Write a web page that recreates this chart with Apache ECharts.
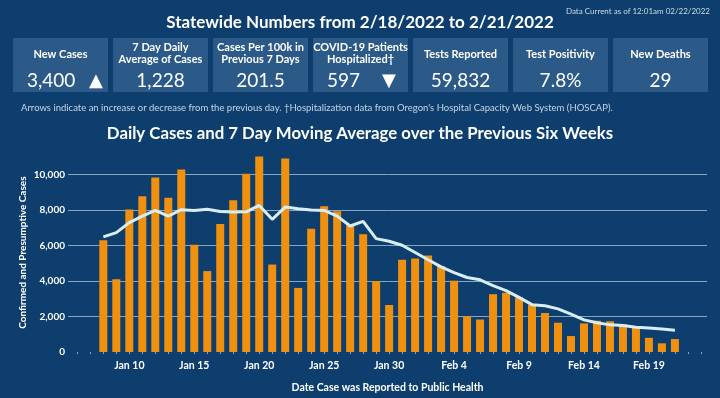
<!DOCTYPE html>
<html>
<head>
<meta charset="utf-8">
<script src="https://cdn.jsdelivr.net/npm/echarts@6/dist/echarts.min.js"></script>
<style>
  html, body { margin: 0; padding: 0; background: #0d3e6e; }
  #chart { width: 720px; height: 398px; }
</style>
</head>
<body>
<div id="chart"></div>
<script>
// daily data, Jan 8 .. Feb 21 2022
const days = [
  'Jan 8', 'Jan 9', 'Jan 10', 'Jan 11', 'Jan 12', 'Jan 13', 'Jan 14', 'Jan 15', 'Jan 16', 'Jan 17',
  'Jan 18', 'Jan 19', 'Jan 20', 'Jan 21', 'Jan 22', 'Jan 23', 'Jan 24', 'Jan 25', 'Jan 26', 'Jan 27',
  'Jan 28', 'Jan 29', 'Jan 30', 'Jan 31', 'Feb 1', 'Feb 2', 'Feb 3', 'Feb 4', 'Feb 5', 'Feb 6',
  'Feb 7', 'Feb 8', 'Feb 9', 'Feb 10', 'Feb 11', 'Feb 12', 'Feb 13', 'Feb 14', 'Feb 15', 'Feb 16',
  'Feb 17', 'Feb 18', 'Feb 19', 'Feb 20', 'Feb 21'
]
const dailyCases = [
  6300, 4100, 8030, 8780, 9830, 8690, 10280, 6050, 4560, 7210,
  8560, 10050, 11020, 4930, 10910, 3610, 6950, 8220, 7940, 7140,
  6640, 4000, 2650, 5200, 5270, 5440, 4840, 4020, 2020, 1830,
  3260, 3340, 3070, 2670, 2200, 1650, 900, 1610, 1760, 1730,
  1550, 1380, 800, 490, 730
]
const movingAvg = [
  6490, 6730, 7290, 7660, 7980, 7660, 8020, 7980, 8050, 7920,
  7890, 7900, 8260, 7480, 8170, 8070, 8000, 7980, 7660, 7100,
  7360, 6390, 6240, 6020, 5610, 5200, 4800, 4470, 4200, 4070,
  3740, 3460, 3080, 2670, 2610, 2430, 2130, 1810, 1650, 1530,
  1490, 1400, 1350, 1290, 1228
]
const xTickLabels = ['Jan 10', 'Jan 15', 'Jan 20', 'Jan 25', 'Jan 30', 'Feb 4', 'Feb 9', 'Feb 14', 'Feb 19']
const yTicks = [0, 2000, 4000, 6000, 8000, 10000]

// summary tiles
const tileLabels = [
  ['New Cases'],
  ['7 Day Daily', 'Average of Cases'],
  ['Cases Per 100k in', 'Previous 7 Days'],
  ['COVID-19 Patients', 'Hospitalized†'],
  ['Tests Reported'],
  ['Test Positivity'],
  ['New Deaths']
]
const tileValues = ['3,400', '1,228', '201.5', '597', '59,832', '7.8%', '29']
const tileArrows = ['▲', '', '', '▼', '', '', '']

const FONT = 'Lato'
const BG = '#0d3e6e'
const TILE = '#2b5a89'

const chart = echarts.init(document.getElementById('chart'))

const graphic = []
tileLabels.forEach((lines, i) => {
  const x = 13 + i * 100
  graphic.push({
    type: 'rect',
    shape: { x: x, y: 38, width: 95, height: 54 },
    style: { fill: TILE }
  })
  graphic.push({
    type: 'text',
    style: {
      x: x + 47.5,
      y: lines.length > 1 ? 53 : 54,
      text: lines.join('\n'),
      lineHeight: 12,
      align: 'center',
      verticalAlign: 'middle',
      fill: '#ffffff',
      font: 'bold 11px ' + FONT
    }
  })
  const hasArrow = tileArrows[i] !== ''
  graphic.push({
    type: 'text',
    style: {
      x: hasArrow ? x + 14 : x + 47.5,
      y: 81,
      text: tileValues[i],
      align: hasArrow ? 'left' : 'center',
      verticalAlign: 'middle',
      fill: '#ffffff',
      font: '19px ' + FONT
    }
  })
  if (hasArrow) {
    graphic.push({
      type: 'text',
      style: {
        x: x + (i === 0 ? 83 : 76),
        y: 81,
        text: tileArrows[i],
        align: 'center',
        verticalAlign: 'middle',
        fill: '#ffffff',
        font: '18px DejaVu Sans'
      }
    })
  }
})

chart.setOption({
  backgroundColor: BG,
  textStyle: { fontFamily: FONT },
  title: [
    {
      text: 'Statewide Numbers from 2/18/2022 to 2/21/2022',
      left: 'center', top: 9,
      textStyle: { color: '#fff', fontSize: 17, fontWeight: 'bold', fontFamily: FONT }
    },
    {
      text: 'Data Current as of 12:01am 02/22/2022',
      right: 5, top: 2,
      textStyle: { color: '#d0dae4', fontSize: 8, fontWeight: 'normal', fontFamily: FONT }
    },
    {
      text: 'Arrows indicate an increase or decrease from the previous day. †Hospitalization data from Oregon\'s Hospital Capacity Web System (HOSCAP).',
      left: 16, top: 98,
      textStyle: { color: '#c9d5e1', fontSize: 9.5, fontWeight: 'normal', fontFamily: FONT }
    },
    {
      text: 'Daily Cases and 7 Day Moving Average over the Previous Six Weeks',
      left: 'center', top: 120,
      textStyle: { color: '#fff', fontSize: 16.8, fontWeight: 'bold', fontFamily: FONT }
    }
  ],
  graphic: graphic,
  grid: { left: 68, right: 13, top: 153.3, bottom: 45 },
  xAxis: {
    type: 'value',
    min: -2.72,
    max: 46.47,
    name: 'Date Case was Reported to Public Health',
    nameLocation: 'middle',
    nameGap: 30,
    nameMoveOverlap: false,
    nameTextStyle: { color: '#fff', fontSize: 10.5, fontWeight: 'bold' },
    axisLine: { show: false },
    axisTick: {
      show: true,
      length: 2,
      lineStyle: { color: '#8aa3bd' },
      customValues: [-2, -1].concat(days.map((d, i) => i), [45, 46])
    },
    axisLabel: {
      color: '#fff',
      fontSize: 10.5,
      fontWeight: 'bold',
      margin: 8,
      customValues: xTickLabels.map(l => days.indexOf(l)),
      formatter: v => days[Math.round(v)] || ''
    },
    splitLine: { show: false }
  },
  yAxis: {
    type: 'value',
    min: 0,
    max: 11200,
    name: 'Confirmed and Presumptive Cases',
    nameLocation: 'middle',
    nameGap: 40,
    nameMoveOverlap: false,
    nameTextStyle: { color: '#fff', fontSize: 10, fontWeight: 'bold' },
    axisLine: { show: false },
    axisTick: { show: false },
    axisLabel: {
      color: '#fff',
      fontSize: 10,
      fontWeight: 'bold',
      margin: 3,
      customValues: yTicks,
      formatter: v => v.toLocaleString('en-US')
    },
    splitLine: {
      show: true,
      showMinLine: false,
      showMaxLine: false,
      lineStyle: { color: '#86a6c4', width: 1 }
    },
    interval: 2000
  },
  series: [
    {
      name: 'Daily Cases',
      type: 'bar',
      barWidth: 8,
      itemStyle: { color: '#f0900f' },
      data: dailyCases.map((v, i) => [i, v]),
      z: 2
    },
    {
      name: '7 Day Moving Average',
      type: 'line',
      symbol: 'none',
      lineStyle: { color: '#d9eef3', width: 3 },
      data: movingAvg.map((v, i) => [i, v]),
      z: 3
    }
  ]
})
</script>
</body>
</html>
